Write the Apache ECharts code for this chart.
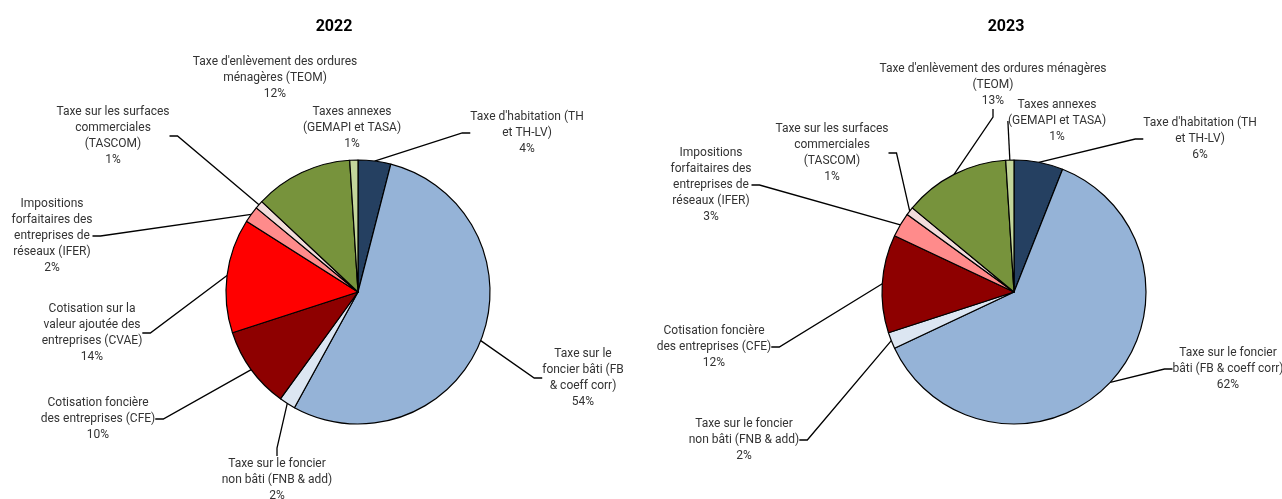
<!DOCTYPE html>
<html>
<head>
<meta charset="utf-8">
<script src="https://cdn.jsdelivr.net/npm/echarts@6/dist/echarts.min.js"></script>
<style>
html,body{margin:0;padding:0;background:#fff;}
#chart{width:1282px;height:499px;}
</style>
</head>
<body>
<div id="chart"></div>
<script>
const categories = [
  "Taxe d'habitation (TH et TH-LV)",
  "Taxe sur le foncier bâti (FB & coeff corr)",
  "Taxe sur le foncier non bâti (FNB & add)",
  "Cotisation foncière des entreprises (CFE)",
  "Cotisation sur la valeur ajoutée des entreprises (CVAE)",
  "Impositions forfaitaires des entreprises de réseaux (IFER)",
  "Taxe sur les surfaces commerciales (TASCOM)",
  "Taxe d'enlèvement des ordures ménagères (TEOM)",
  "Taxes annexes (GEMAPI et TASA)"
];
const labels2022 = [
  "Taxe d'habitation (TH\net TH-LV)",
  "Taxe sur le\nfoncier bâti (FB\n& coeff corr)",
  "Taxe sur le foncier\nnon bâti (FNB & add)",
  "Cotisation foncière\ndes entreprises (CFE)",
  "Cotisation sur la\nvaleur ajoutée des\nentreprises (CVAE)",
  "Impositions\nforfaitaires des\nentreprises de\nréseaux (IFER)",
  "Taxe sur les surfaces\ncommerciales\n(TASCOM)",
  "Taxe d'enlèvement des ordures\nménagères (TEOM)",
  "Taxes annexes\n(GEMAPI et TASA)"
];
const labels2023 = [
  "Taxe d'habitation (TH\net TH-LV)",
  "Taxe sur le foncier\nbâti (FB & coeff corr)",
  "Taxe sur le foncier\nnon bâti (FNB & add)",
  "Cotisation foncière\ndes entreprises (CFE)",
  "Cotisation sur la\nvaleur ajoutée des\nentreprises (CVAE)",
  "Impositions\nforfaitaires des\nentreprises de\nréseaux (IFER)",
  "Taxe sur les surfaces\ncommerciales\n(TASCOM)",
  "Taxe d'enlèvement des ordures ménagères\n(TEOM)",
  "Taxes annexes\n(GEMAPI et TASA)"
];
const values2022 = [4, 54, 2, 10, 14, 2, 1, 12, 1];
const values2023 = [6, 62, 2, 12, null, 3, 1, 13, 1];
const titles = ["2022", "2023"];

const colors = ["#254061", "#95B3D7", "#DCE6F2", "#8E0000", "#FF0000", "#FF8B8B", "#F2DCDB", "#77933C", "#C3D69B"];

// label centre positions (layout, not data)
const labelPos2022 = {
  0: [527, 133], 1: [583, 378], 2: [277, 480], 3: [98, 419], 4: [92, 333],
  5: [52, 236], 6: [113, 136], 7: [275, 78], 8: [352, 128]
};
const labelPos2023 = {
  0: [1200, 139], 1: [1228, 369], 2: [744, 440], 3: [714, 347],
  5: [711, 185], 6: [832, 153], 7: [993, 85], 8: [1057, 121]
};
const noLine2022 = [7, 8];
const noLine2023 = [];

function buildData(values, labels, noLine) {
  const out = [];
  values.forEach((v, i) => {
    if (v == null) return;
    const item = { name: categories[i], value: v, idx: i, lbl: labels[i], itemStyle: { color: colors[i] } };
    if (noLine.indexOf(i) >= 0) item.labelLine = { show: false };
    out.push(item);
  });
  return out;
}
const data2022 = buildData(values2022, labels2022, noLine2022);
const data2023 = buildData(values2023, labels2023, noLine2023);

function makeSeries(data, center, pos) {
  return {
    type: 'pie',
    radius: 132,
    center: center,
    startAngle: 90,
    clockwise: true,
    animation: false,
    avoidLabelOverlap: false,
    data: data,
    itemStyle: { borderColor: '#000', borderWidth: 1.2 },
    emphasis: { disabled: true },
    label: {
      show: true,
      position: 'outside',
      fontFamily: 'Roboto',
      fontSize: 12,
      lineHeight: 16,
      color: '#333',
      align: 'center',
      formatter: function (p) { return p.data.lbl + '\n' + p.value + '%'; }
    },
    labelLine: { show: true, length: 10, length2: 8, lineStyle: { color: '#000', width: 1.3 } },
    labelLayout: function (params) {
      const d = data[params.dataIndex];
      const p = pos[d.idx];
      return { x: p[0], y: p[1], align: 'center', verticalAlign: 'middle' };
    }
  };
}

const chart = echarts.init(document.getElementById('chart'), null, { renderer: 'canvas' });
chart.setOption({
  backgroundColor: '#fff',
  title: [
    { text: titles[0], left: 329, top: 22, textAlign: 'center', textVerticalAlign: 'middle',
      textStyle: { fontFamily: 'Roboto', fontSize: 16, fontWeight: 'bold', color: '#000' } },
    { text: titles[1], left: 1001, top: 22, textAlign: 'center', textVerticalAlign: 'middle',
      textStyle: { fontFamily: 'Roboto', fontSize: 16, fontWeight: 'bold', color: '#000' } }
  ],
  series: [
    makeSeries(data2022, [358, 292], labelPos2022),
    makeSeries(data2023, [1014, 292], labelPos2023)
  ]
});
</script>
</body>
</html>
